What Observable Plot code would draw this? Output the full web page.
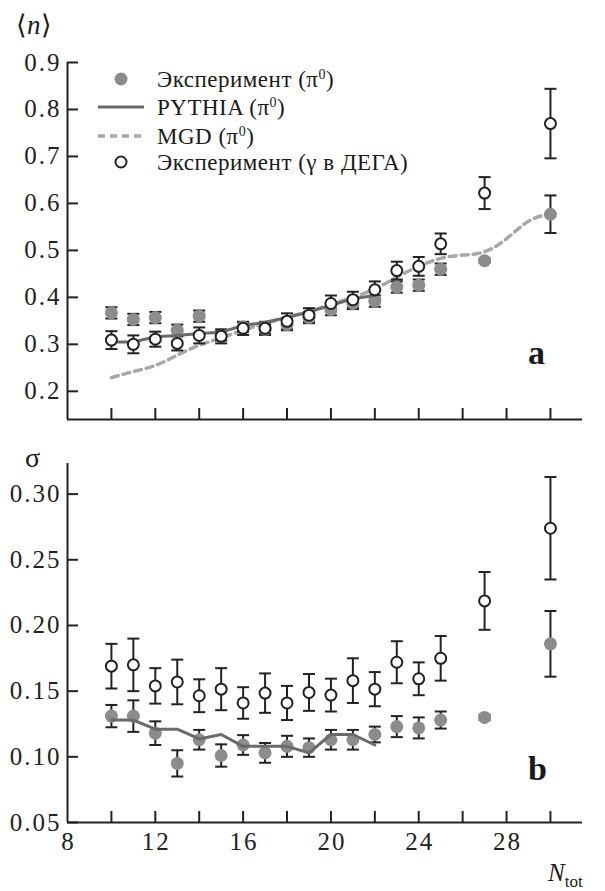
<!DOCTYPE html>
<html><head><meta charset="utf-8">
<script src="https://cdn.jsdelivr.net/npm/d3@7"></script>
<script src="https://cdn.jsdelivr.net/npm/@observablehq/plot@0.6"></script>
<style>
body{margin:0;background:#fff}
#wrap{position:relative;width:605px;height:891px;overflow:hidden;font-family:"Liberation Serif","Times New Roman",serif;color:#1a1a1a}
#wrap svg{display:block}
#wrap svg text{letter-spacing:2px}
.lbl{position:absolute;white-space:nowrap;line-height:1}
.leg{position:absolute;left:157px;font-size:23px;letter-spacing:0.5px;white-space:nowrap;line-height:1}
.leg sup{font-size:14px;vertical-align:0;position:relative;top:-8px}
</style></head><body><div id="wrap"></div>
<script>
// ---- data ----
const nTot = [10,11,12,13,14,15,16,17,18,19,20,21,22,23,24,25,27,30];
const nPi0    = [0.367,0.353,0.357,0.330,0.360,0.318,0.337,0.332,0.342,0.357,0.374,0.387,0.392,0.422,0.426,0.460,0.478,0.577];
const nPi0Err = [0.012,0.012,0.012,0.012,0.012,0.010,0.010,0.010,0.012,0.012,0.012,0.012,0.012,0.012,0.012,0.012,0.004,0.040];
const nGam    = [0.309,0.300,0.311,0.302,0.319,0.317,0.334,0.334,0.349,0.362,0.387,0.395,0.416,0.457,0.466,0.514,0.622,0.770];
const nGamErr = [0.019,0.019,0.016,0.015,0.017,0.015,0.014,0.014,0.017,0.015,0.017,0.017,0.018,0.019,0.020,0.022,0.034,0.074];
const pythiaX = [10,11,12,13,14,15,16,17,18,19,20,21,22];
const nPythia = [0.305,0.305,0.316,0.319,0.323,0.326,0.340,0.347,0.357,0.369,0.383,0.397,0.404];
const mgdX = [10,11,12,13,14,15,16,17,18,19,20,21,22,23,24,25,26,27,28,29,30];
const nMGD = [0.229,0.242,0.255,0.277,0.298,0.314,0.330,0.344,0.358,0.370,0.385,0.400,0.418,0.443,0.466,0.483,0.490,0.497,0.525,0.562,0.578];

const sPi0    = [0.131,0.131,0.118,0.095,0.113,0.101,0.109,0.103,0.108,0.107,0.113,0.113,0.117,0.123,0.122,0.128,0.130,0.186];
const sPi0Err = [0.0085,0.012,0.009,0.010,0.0075,0.0085,0.0075,0.0075,0.008,0.007,0.0075,0.0075,0.006,0.008,0.008,0.0065,0.002,0.025];
const sGam    = [0.169,0.170,0.154,0.157,0.1465,0.1515,0.141,0.1485,0.141,0.149,0.147,0.158,0.1515,0.172,0.1594,0.175,0.2187,0.274];
const sGamErr = [0.017,0.020,0.0135,0.017,0.0125,0.016,0.012,0.015,0.013,0.014,0.0125,0.017,0.013,0.016,0.0125,0.017,0.022,0.039];
const sPythia = [0.128,0.128,0.121,0.121,0.1136,0.117,0.108,0.108,0.108,0.103,0.117,0.117,0.109];

const xTicks = [10,12,14,16,18,20,22,24,26,28,30];
const xLabels = [8,12,16,20,24,28];
const nTicks = [0.2,0.3,0.4,0.5,0.6,0.7,0.8,0.9];
const sTicks = [0.05,0.10,0.15,0.20,0.25,0.30];

// ---- build ----
const ink = "#222";
const rows = (ys, es) => nTot.map((x, i) => ({x, y: ys[i], e: es[i]}));
const linePts = (xsArr, ys) => xsArr.map((x, i) => ({x, y: ys[i]}));
const cap = {draw(ctx) { ctx.moveTo(-6, 0); ctx.lineTo(6, 0); }};

function errMarks(data) {
  return [
    Plot.ruleX(data, {x: "x", y1: d => d.y - d.e, y2: d => d.y + d.e, stroke: ink, strokeWidth: 2}),
    Plot.dot(data, {x: "x", y: d => d.y + d.e, symbol: cap, stroke: ink, strokeWidth: 2, fill: "none"}),
    Plot.dot(data, {x: "x", y: d => d.y - d.e, symbol: cap, stroke: ink, strokeWidth: 2, fill: "none"})
  ];
}

function panel({height, marginTop, marginBottom, yDomain, yTicks, yFmt, showXLabels, pi0, gam, pythia, mgd}) {
  return Plot.plot({
    width: 605, height, marginLeft: 67, marginRight: 23, marginTop, marginBottom,
    x: {domain: [8, 31.46], label: null},
    y: {domain: yDomain, label: null},
    style: {fontFamily: '"Liberation Serif","Times New Roman",serif', background: "white", overflow: "visible", color: ink},
    marks: [
      Plot.axisY({ticks: yTicks, tickSize: -11, tickFormat: () => "", strokeWidth: 2, label: null}),
      Plot.axisY({ticks: yTicks, tickSize: 0, tickPadding: 6, tickFormat: yFmt, fontSize: 25, label: null}),
      Plot.axisX({ticks: xTicks, tickSize: -11, tickFormat: () => "", strokeWidth: 2, label: null}),
      showXLabels ? Plot.axisX({ticks: xLabels, tickSize: 0, tickPadding: 10, fontSize: 25, dx: 1, label: null}) : null,
      Plot.ruleX([8], {stroke: ink, strokeWidth: 2}),
      Plot.ruleY([yDomain[0]], {stroke: ink, strokeWidth: 2}),
      mgd ? Plot.line(mgd, {x: "x", y: "y", curve: "natural", stroke: "#a8a8a8", strokeWidth: 3.5, strokeDasharray: "7,5"}) : null,
      ...errMarks(pi0),
      ...errMarks(gam),
      Plot.dot(pi0, {x: "x", y: "y", r: 6.5, fill: "#8c8c8c"}),
      Plot.line(pythia, {x: "x", y: "y", stroke: "#6a6a6a", strokeWidth: 3}),
      Plot.dot(gam, {x: "x", y: "y", r: 5.5, fill: "white", stroke: ink, strokeWidth: 2})
    ]
  });
}

const wrap = document.getElementById("wrap");
wrap.append(panel({
  height: 430, marginTop: 62, marginBottom: 11, yDomain: [0.14, 0.9], yTicks: nTicks, yFmt: d3.format(".1f"),
  showXLabels: false, pi0: rows(nPi0, nPi0Err), gam: rows(nGam, nGamErr),
  pythia: linePts(pythiaX, nPythia), mgd: linePts(mgdX, nMGD)
}));
wrap.append(panel({
  height: 461, marginTop: 33, marginBottom: 69, yDomain: [0.05, 0.3233], yTicks: sTicks, yFmt: d3.format(".2f"),
  showXLabels: true, pi0: rows(sPi0, sPi0Err), gam: rows(sGam, sGamErr),
  pythia: linePts(pythiaX, sPythia), mgd: null
}));

// ---- labels & legend ----
const html = `
<div class="lbl" style="left:16px;top:12px;font-size:27px">⟨<i>n</i>⟩</div>
<div class="lbl" style="left:25px;top:444px;font-size:28px">σ</div>
<div class="lbl" style="left:528px;top:336px;font-size:34px;font-weight:bold">a</div>
<div class="lbl" style="left:528px;top:752px;font-size:34px;font-weight:bold">b</div>
<div class="lbl" style="left:548px;top:860px;font-size:25px"><i>N</i><span style="font-size:17px;position:relative;top:6px">tot</span></div>
<svg style="position:absolute;left:0;top:0" width="200" height="200">
  <circle cx="121" cy="79" r="6.5" fill="#8c8c8c"/>
  <line x1="98" x2="144" y1="107" y2="107" stroke="#6a6a6a" stroke-width="3"/>
  <line x1="98" x2="144" y1="136" y2="136" stroke="#a8a8a8" stroke-width="3.5" stroke-dasharray="7,5"/>
  <circle cx="121" cy="162" r="5.5" fill="white" stroke="${ink}" stroke-width="2"/>
</svg>
<div class="leg" style="top:68px">Эксперимент (π<sup>0</sup>)</div>
<div class="leg" style="top:96px">PYTHIA (π<sup>0</sup>)</div>
<div class="leg" style="top:125px">MGD (π<sup>0</sup>)</div>
<div class="leg" style="top:151px">Эксперимент (γ в ДЕГА)</div>`;
wrap.insertAdjacentHTML("beforeend", html);
</script>
</body></html>
